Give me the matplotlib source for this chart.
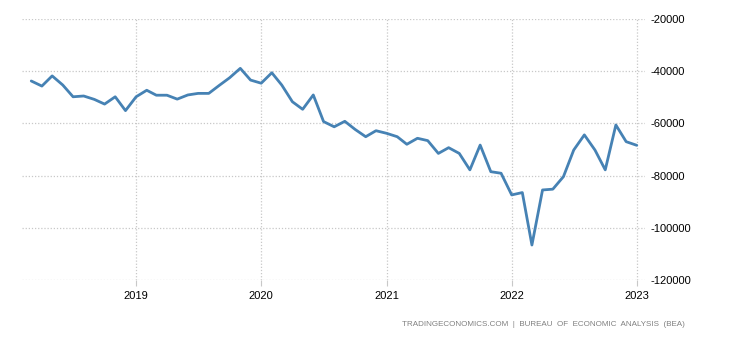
import pandas as pd
import matplotlib.pyplot as plt
import matplotlib.dates as mdates

# monthly values, Mar 2018 .. Jan 2023
months = pd.date_range('2018-03-01', '2023-01-01', freq='MS')
values = [
    -43750, -45700, -41800, -45300, -49800, -49500, -50800, -52600, -49800, -55100,
    -49800, -47300, -49200, -49200, -50700, -49100, -48500, -48500, -45400, -42500,
    -38900, -43400, -44600, -40600, -45300, -51700, -54600, -49100, -59300, -61300,
    -59200, -62300, -65100, -62800, -63800, -65100, -68000, -65700, -66600, -71500,
    -69300, -71500, -77800, -68300, -78500, -79100, -87400, -86500, -106600, -85500,
    -85200, -80400, -70200, -64400, -70200, -77800, -60600, -67000, -68400,
]
y_ticks = [-120000, -100000, -80000, -60000, -40000, -20000]
year_ticks = ['2019', '2020', '2021', '2022', '2023']

plt.rcParams['font.family'] = ['Liberation Sans', 'DejaVu Sans']
plt.rcParams['axes.unicode_minus'] = False

fig = plt.figure(figsize=(7.3, 3.4), dpi=100)
ax = fig.add_axes([22 / 730, 1 - 280 / 340, (645 - 22) / 730, (280 - 19) / 340])

ax.plot(months, values, color='#4682b4', lw=2.0, solid_joinstyle='round',
        solid_capstyle='round')

ax.set_ylim(-120000, -20000)
ax.set_yticks(y_ticks)
ax.yaxis.tick_right()
ax.set_xlim(pd.Timestamp('2018-02-02'), pd.Timestamp('2023-01-25'))
ax.set_xticks([pd.Timestamp(y + '-01-01') for y in year_ticks])
ax.xaxis.set_major_formatter(mdates.DateFormatter('%Y'))

ax.grid(True, color='#c8c8c8', linestyle=(0, (1, 1.5)), linewidth=0.9)
for s in ax.spines.values():
    s.set_visible(False)
ax.tick_params(axis='x', length=4, color='#c8c8c8', labelsize=8, pad=4)
ax.tick_params(axis='y', length=0, labelsize=8, pad=4)

fig.text(685 / 730, 1 - 325 / 340,
         'TRADINGECONOMICS.COM  |  BUREAU  OF  ECONOMIC  ANALYSIS  (BEA)',
         ha='right', va='center', fontsize=5.8, color='#808080')

fig.savefig('out.png', dpi=100)
